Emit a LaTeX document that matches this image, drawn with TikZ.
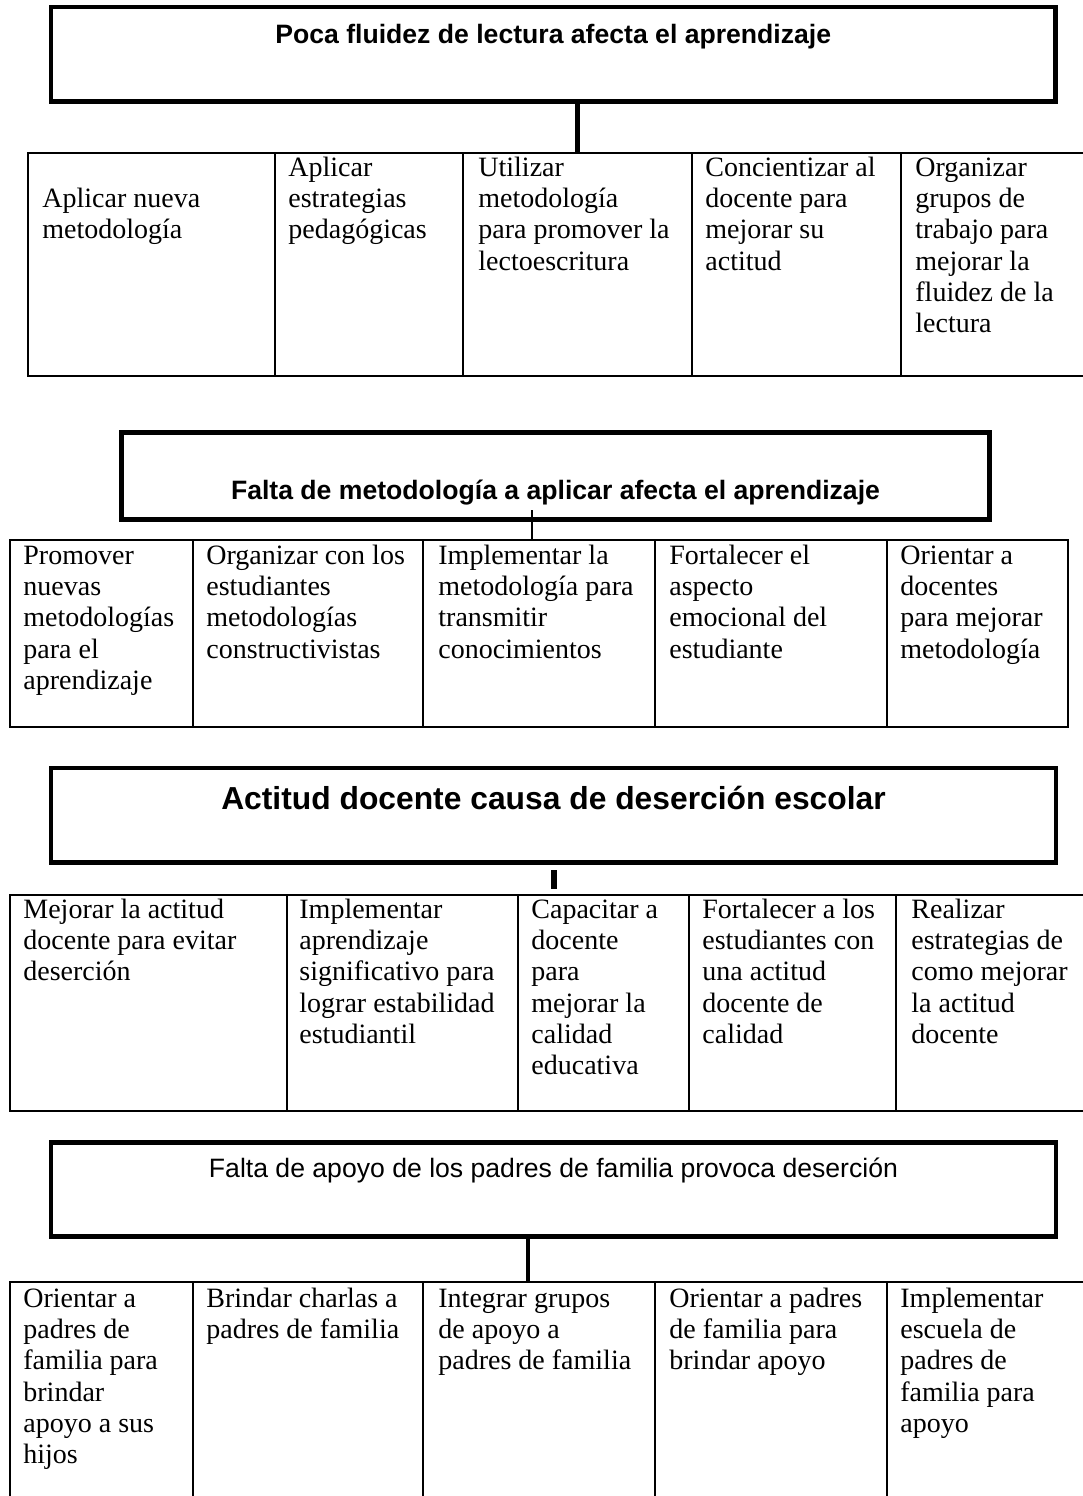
\documentclass[tikz,border=0pt]{standalone}
\usepackage{fontspec}
\setmainfont{Liberation Serif}
\newfontfamily\titlefont{Liberation Sans}
\usetikzlibrary{positioning}

\tikzset{
  probbox/.style={draw, line width=2.4pt, inner sep=0pt},
  cell/.style={draw, line width=1pt, inner sep=0pt},
  txt/.style={inner sep=0pt, align=left, font=\fontsize{14}{15.65}\selectfont},
  ttl/.style={inner sep=0pt, anchor=base, font=\titlefont\fontsize{13.3}{16}\selectfont},
  ttlb/.style={ttl, font=\titlefont\bfseries\fontsize{13.3}{16}\selectfont},
  link/.style={line width=2.4pt}
}

\begin{document}
\begin{tikzpicture}[x=0.5pt, y=-0.5pt]
\useasboundingbox (0,0) rectangle (1083,1496);

% problema 1
\node[probbox, minimum width=502.25pt, minimum height=47.25pt] (prob1) at (553.25,54.25) {};
\node[ttlb] (t1) at (553.25,43) {Poca fluidez de lectura afecta el aprendizaje};
\foreach \a/\b [count=\i] in {28/275,275/463,463/692,692/901,901/1110}
  \node[cell, minimum width={(\b-\a)*0.5pt}, minimum height=111.5pt] (c1-\i) at ({(\a+\b)/2},264.5) {};
\draw[link] (prob1.south -| c1-3.north) -- (c1-3.north);
\node[txt, below right=16.65pt and 7.5pt of c1-1.north west] {\strut Aplicar nueva\\metodología};
\node[txt, below right=1pt and 7pt of c1-2.north west] {\strut Aplicar\\estrategias\\pedagógicas};
\node[txt, below right=1pt and 8pt of c1-3.north west] {\strut Utilizar\\metodología\\para promover la\\lectoescritura};
\node[txt, below right=1pt and 7pt of c1-4.north west] {\strut Concientizar al\\docente para\\mejorar su\\actitud};
\node[txt, below right=1pt and 7.5pt of c1-5.north west] {\strut Organizar\\grupos de\\trabajo para\\mejorar la\\fluidez de la\\lectura};

% problema 2
\node[probbox, minimum width=434pt, minimum height=43.5pt] (prob2) at (555.5,476) {};
\node[ttlb] (t2) at (555.5,499) {Falta de metodología a aplicar afecta el aprendizaje};
\foreach \a/\b [count=\i] in {10/193,193/423,423/655,655/887,887/1068}
  \node[cell, minimum width={(\b-\a)*0.5pt}, minimum height=93.5pt] (c2-\i) at ({(\a+\b)/2},633.5) {};
\draw[line width=0.7pt] ([xshift=-11.75pt, yshift=5.75pt]prob2.south) -- ([xshift=-11.75pt]prob2.south |- c2-3.north);
\node[txt, below right=1.5pt and 7pt of c2-1.north west] {\strut Promover\\nuevas\\metodologías\\para el\\aprendizaje};
\node[txt, below right=1.5pt and 7pt of c2-2.north west] {\strut Organizar con los\\estudiantes\\metodologías\\constructivistas};
\node[txt, below right=1.5pt and 8pt of c2-3.north west] {\strut Implementar la\\metodología para\\transmitir\\conocimientos};
\node[txt, below right=1.5pt and 7.5pt of c2-4.north west] {\strut Fortalecer el\\aspecto\\emocional del\\estudiante};
\node[txt, below right=1.5pt and 7pt of c2-5.north west] {\strut Orientar a\\docentes\\para mejorar\\metodología};

% problema 3
\node[probbox, minimum width=502.5pt, minimum height=47.25pt] (prob3) at (553.5,815.25) {};
\node[ttl, font=\titlefont\bfseries\fontsize{15.9}{19}\selectfont] (t3) at (553.5,809) {Actitud docente causa de deserción escolar};
\foreach \a/\b [count=\i] in {10/287,287/518,518/689,689/896,896/1110}
  \node[cell, minimum width={(\b-\a)*0.5pt}, minimum height=108pt] (c3-\i) at ({(\a+\b)/2},1003) {};
\draw[link, line width=3pt] ([yshift=-2.75pt]prob3.south) -- ([yshift=2.5pt]prob3.south |- c3-3.north);
\node[txt, below right=1pt and 7pt of c3-1.north west] {\strut Mejorar la actitud\\docente para evitar\\deserción};
\node[txt, below right=1pt and 6.5pt of c3-2.north west] {\strut Implementar\\aprendizaje\\significativo para\\lograr estabilidad\\estudiantil};
\node[txt, below right=1pt and 7pt of c3-3.north west] {\strut Capacitar a\\docente\\para\\mejorar la\\calidad\\educativa};
\node[txt, below right=1pt and 7pt of c3-4.north west] {\strut Fortalecer a los\\estudiantes con\\una actitud\\docente de\\calidad};
\node[txt, below right=1pt and 8pt of c3-5.north west] {\strut Realizar\\estrategias de\\como mejorar\\la actitud\\docente};

% problema 4
\node[probbox, minimum width=502.5pt, minimum height=47pt] (prob4) at (553.5,1189.5) {};
\node[ttl] (t4) at (553.5,1177) {Falta de apoyo de los padres de familia provoca deserción};
\foreach \a/\b [count=\i] in {10/193,193/423,423/655,655/887,887/1110}
  \node[cell, minimum width={(\b-\a)*0.5pt}, minimum height=124pt] (c4-\i) at ({(\a+\b)/2},1406) {};
\draw[link] ([xshift=-12.75pt]prob4.south) -- ([xshift=-12.75pt]prob4.south |- c4-3.north);
\node[txt, below right=2pt and 7pt of c4-1.north west] {\strut Orientar a\\padres de\\familia para\\brindar\\apoyo a sus\\hijos};
\node[txt, below right=2pt and 7pt of c4-2.north west] {\strut Brindar charlas a\\padres de familia};
\node[txt, below right=2pt and 8pt of c4-3.north west] {\strut Integrar grupos\\de apoyo a\\padres de familia};
\node[txt, below right=2pt and 7.5pt of c4-4.north west] {\strut Orientar a padres\\de familia para\\brindar apoyo};
\node[txt, below right=2pt and 7pt of c4-5.north west] {\strut Implementar\\escuela de\\padres de\\familia para\\apoyo};
\end{tikzpicture}
\end{document}
